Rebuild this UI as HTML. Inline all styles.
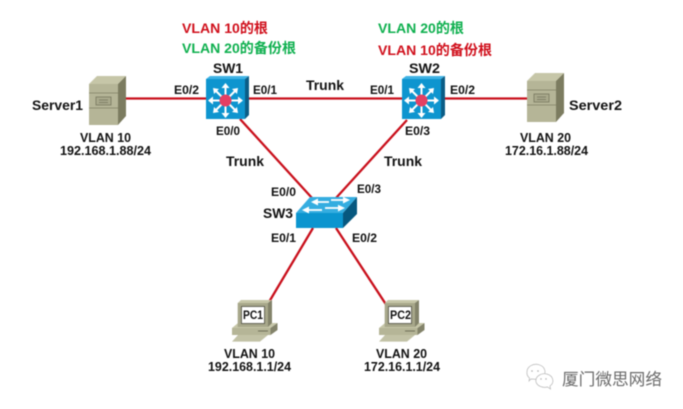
<!DOCTYPE html>
<html><head><meta charset="utf-8"><style>
html,body{margin:0;padding:0;background:#fff;width:683px;height:409px;overflow:hidden}
svg{display:block;filter:blur(.4px)}
text{font-family:"Liberation Sans","Noto Sans CJK SC",sans-serif;font-weight:bold;fill:#111}
.t{font-size:14px}.s{font-size:12.5px}.e{font-size:12px}
.r{fill:#d0101c;font-size:14px}.g{fill:#0fb04f;font-size:14px}
</style></head><body>
<svg width="683" height="409" viewBox="0 0 683 409" xmlns="http://www.w3.org/2000/svg">
<defs>
<g id="mls">
<polygon points="0,3 4,0 43,0 39,3" fill="#3fb3e4"/>
<polygon points="39,3 43,0 43,39 39,43" fill="#0b5d86"/>
<rect x="0" y="3" width="39" height="40" fill="#0e95cf"/>
<g transform="translate(0,1)">
<g stroke="#fff" stroke-width="2" fill="#fff">
<line x1="19.5" y1="23.5" x2="19.5" y2="9"/><line x1="19.5" y1="23.5" x2="19.5" y2="38"/>
<line x1="19.5" y1="23.5" x2="5" y2="23.5"/><line x1="19.5" y1="23.5" x2="34" y2="23.5"/>
<line x1="19.5" y1="23.5" x2="9" y2="13"/><line x1="19.5" y1="23.5" x2="30" y2="13"/>
<line x1="19.5" y1="23.5" x2="9" y2="34"/><line x1="19.5" y1="23.5" x2="30" y2="34"/>
</g>
<g fill="#fff">
<polygon points="19.5,6 15.5,11 23.5,11"/><polygon points="19.5,41 15.5,36 23.5,36"/>
<polygon points="2,23.5 7,19.5 7,27.5"/><polygon points="37,23.500 32,19.5 32,27.5"/>
<polygon points="7,11 13,12 8,17"/><polygon points="32,11 26,12 31,17"/>
<polygon points="7,36 13,35 8,30"/><polygon points="32,36 26,35 31,30"/>
</g>
<circle cx="19.5" cy="23.5" r="6" fill="#e43f63"/>
</g>
</g>
<g id="srv">
<polygon points="0,8 8,0 37,0 29,8" fill="#c6c6a8"/>
<polygon points="29,8 37,0 37,40 29,49" fill="#7c7c60"/>
<rect x="0" y="8" width="29" height="41" fill="#b5b597"/>
<line x1="0" y1="17" x2="29" y2="17" stroke="#8e8e72"/>
<line x1="0" y1="32" x2="29" y2="32" stroke="#8e8e72"/>
<rect x="7" y="21" width="15" height="8" fill="#a9a98c" stroke="#77775e" stroke-width=".8"/>
<line x1="10" y1="24" x2="19" y2="24" stroke="#6f6f58" stroke-width=".7"/>
<line x1="10" y1="26.5" x2="19" y2="26.5" stroke="#6f6f58" stroke-width=".7"/>
</g>
<g id="pc">
<polygon points="0,28 6,23 45.500,23 38.500,28" fill="#c6c6a8"/>
<rect x="0" y="28" width="38.500" height="7" fill="#b5b597"/>
<polygon points="38.500,28 45.500,23 45.500,30 38.500,35" fill="#83836a"/>
<line x1="26" y1="31" x2="36" y2="31" stroke="#6f6f58"/>
<polygon points="0,41.600 28,41.600 36,35 6,35" fill="#c2c2a6"/>
<polygon points="5.700,3 9,0 40,0 36,3" fill="#c6c6a8"/>
<polygon points="36,3 40,0 40,23 36,27" fill="#83836a"/>
<rect x="5.700" y="3" width="30.300" height="24" fill="#a7a78a"/>
<rect x="9.500" y="6.500" width="23" height="17" fill="#fff" stroke="#4e4e40" stroke-width=".8"/>
</g>
</defs>

<g stroke="#c9101c" stroke-width="2.300" fill="none">
<line x1="124" y1="98.500" x2="207" y2="98.500"/>
<line x1="248" y1="98.500" x2="403" y2="98.500"/>
<line x1="444" y1="98.500" x2="528" y2="98.500"/>
<line x1="240" y1="119" x2="312" y2="198"/>
<line x1="407" y1="120" x2="336" y2="198"/>
<line x1="313" y1="228" x2="269" y2="302"/>
<line x1="336" y1="228" x2="387" y2="306"/>
</g>

<use href="#srv" x="89" y="76"/>
<use href="#srv" x="527" y="73"/>
<use href="#mls" x="206" y="76"/>
<use href="#mls" x="402" y="76"/>

<g>
<polygon points="296,213 310,197 357,197 343,213" fill="#35ade0"/>
<polygon points="343,213 357,197 357,214 343,228" fill="#07587f"/>
<rect x="296" y="213" width="47" height="15" fill="#0b95cf"/>
<g fill="none" stroke="#fff" stroke-width="1.800">
<line x1="316" y1="202" x2="329" y2="202"/><line x1="331" y1="200" x2="345" y2="200"/>
<line x1="308" y1="210" x2="322" y2="210"/><line x1="325" y1="208" x2="339" y2="208"/>
</g>
<g fill="#fff">
<polygon points="311,202 318,198.500 318,205.500"/><polygon points="350,200 343,196.800 343,203.500"/>
<polygon points="302,210 309,206.500 309,213.500"/><polygon points="345,208 338,204.800 338,211.500"/>
</g>
</g>

<use href="#pc" x="232" y="300"/>
<use href="#pc" x="379" y="300"/>

<text class="r" x="182" y="33" textLength="86" lengthAdjust="spacingAndGlyphs">VLAN 10的根</text>
<text class="g" x="182" y="53" textLength="114" lengthAdjust="spacingAndGlyphs">VLAN 20的备份根</text>
<text class="g" x="378" y="33" textLength="86" lengthAdjust="spacingAndGlyphs">VLAN 20的根</text>
<text class="r" x="378" y="55" textLength="114" lengthAdjust="spacingAndGlyphs">VLAN 10的备份根</text>

<text class="t" x="213" y="73" textLength="30" lengthAdjust="spacingAndGlyphs">SW1</text>
<text class="t" x="409" y="73" textLength="31" lengthAdjust="spacingAndGlyphs">SW2</text>
<text class="t" x="263" y="218" textLength="30" lengthAdjust="spacingAndGlyphs">SW3</text>
<text class="t" x="32" y="110" textLength="51" lengthAdjust="spacingAndGlyphs">Server1</text>
<text class="t" x="569" y="110" textLength="53" lengthAdjust="spacingAndGlyphs">Server2</text>
<text class="t" x="306" y="90" textLength="38" lengthAdjust="spacingAndGlyphs">Trunk</text>
<text class="t" x="226" y="166" textLength="38" lengthAdjust="spacingAndGlyphs">Trunk</text>
<text class="t" x="384" y="166" textLength="38" lengthAdjust="spacingAndGlyphs">Trunk</text>

<text class="e" x="174" y="94" textLength="25" lengthAdjust="spacingAndGlyphs">E0/2</text>
<text class="e" x="253" y="94" textLength="24" lengthAdjust="spacingAndGlyphs">E0/1</text>
<text class="e" x="370" y="94" textLength="24" lengthAdjust="spacingAndGlyphs">E0/1</text>
<text class="e" x="450" y="94" textLength="25" lengthAdjust="spacingAndGlyphs">E0/2</text>
<text class="e" x="216" y="135" textLength="24" lengthAdjust="spacingAndGlyphs">E0/0</text>
<text class="e" x="405" y="135" textLength="25" lengthAdjust="spacingAndGlyphs">E0/3</text>
<text class="e" x="271" y="196" textLength="25" lengthAdjust="spacingAndGlyphs">E0/0</text>
<text class="e" x="357" y="193" textLength="24" lengthAdjust="spacingAndGlyphs">E0/3</text>
<text class="e" x="271" y="242" textLength="25" lengthAdjust="spacingAndGlyphs">E0/1</text>
<text class="e" x="352" y="242" textLength="25" lengthAdjust="spacingAndGlyphs">E0/2</text>

<text class="s" x="80" y="142" textLength="51" lengthAdjust="spacingAndGlyphs">VLAN 10</text>
<text class="s" x="60" y="155" textLength="91" lengthAdjust="spacingAndGlyphs">192.168.1.88/24</text>
<text class="s" x="520" y="142" textLength="51" lengthAdjust="spacingAndGlyphs">VLAN 20</text>
<text class="s" x="505" y="155" textLength="83" lengthAdjust="spacingAndGlyphs">172.16.1.88/24</text>
<text class="s" x="224" y="358" textLength="51" lengthAdjust="spacingAndGlyphs">VLAN 10</text>
<text class="s" x="208" y="371" textLength="83" lengthAdjust="spacingAndGlyphs">192.168.1.1/24</text>
<text class="s" x="376" y="358" textLength="51" lengthAdjust="spacingAndGlyphs">VLAN 20</text>
<text class="s" x="364" y="371" textLength="76" lengthAdjust="spacingAndGlyphs">172.16.1.1/24</text>
<text x="243" y="319" textLength="20" lengthAdjust="spacingAndGlyphs" style="font-size:12px">PC1</text>
<text x="390" y="319" textLength="21" lengthAdjust="spacingAndGlyphs" style="font-size:12px">PC2</text>

<g fill="#fff" stroke="#b5b5b5" stroke-width=".7">
<path d="M527 372a9 7.500 0 1 1 16 4.500l-4 3-8-.5 -2 2 .5-3a8 7 0 0 1-2.500-6z"/>
<path d="M536 382a8.500 7 0 1 1 14 4l.5 3-3-2a9 7 0 0 1-11.500-5z"/>
</g>
<g fill="#aaa"><circle cx="532" cy="371" r=".8"/><circle cx="538" cy="371" r=".8"/><circle cx="541" cy="379" r=".7"/><circle cx="546" cy="379" r=".7"/></g>
<text x="562" y="385" textLength="100" lengthAdjust="spacingAndGlyphs" style="font-size:16.500px;font-weight:normal;fill:#6a6a6a">厦门微思网络</text>
</svg>
</body></html>
